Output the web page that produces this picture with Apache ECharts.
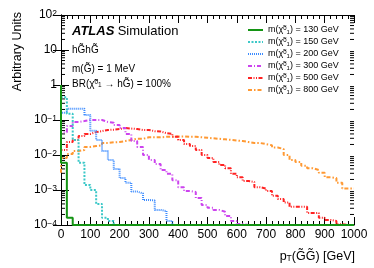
<!DOCTYPE html>
<html><head><meta charset="utf-8">
<script src="https://cdn.jsdelivr.net/npm/echarts@6/dist/echarts.min.js"></script>
<style>html,body{margin:0;padding:0;background:#fff}#c{width:374px;height:268px}</style>
</head><body><div id="c"></div>
<script>
// bin lower edges (GeV), 20 GeV bins from 0 to 1000
const binLow = [0,20,40,60,80,100,120,140,160,180,200,220,240,260,280,300,320,340,360,380,
  400,420,440,460,480,500,520,540,560,580,600,620,640,660,680,700,720,740,760,780,
  800,820,840,860,880,900,920,940,960,980];
const xMax = 1000;
const massLabels = ['130','150','200','300','500','800'];

const h130 = [1.0,0.006,0.00016,0,0,0,0,0,0,0, 0,0,0,0,0,0,0,0,0,0, 0,0,0,0,0,0,0,0,0,0, 0,0,0,0,0,0,0,0,0,0, 0,0,0,0,0,0,0,0,0,0];
const h150 = [0.35,0.45,0.15,0.027,0.006,0.0014,0.001,0.0004,0.00016,0.00013, 0,0,0,0,0,0,0,0,0,0, 0,0,0,0,0,0,0,0,0,0, 0,0,0,0,0,0,0,0,0,0, 0,0,0,0,0,0,0,0,0,0];
const h200 = [0.1,0.16,0.21,0.21,0.21,0.14,0.049,0.027,0.013,0.0072, 0.004,0.0022,0.0016,0.0009,0.0008,0.00052,0.0005,0.00027,0.00025,0.00013, 0,0,0,0,0,0,0,0,0,0, 0,0,0,0,0,0,0,0,0,0, 0,0,0,0,0,0,0,0,0,0];
const h300 = [0.02,0.045,0.067,0.088,0.093,0.1,0.1,0.1,0.088,0.083, 0.072,0.059,0.04,0.025,0.017,0.01,0.0072,0.0055,0.0037,0.0029, 0.0019,0.0012,0.00094,0.00088,0.00059,0.00037,0.00031,0.00027,0.00024,0.00018, 0.00013,0.000107,0,0,0,0,0,0,0,0, 0,0,0,0,0,0,0,0,0,0];
const h500 = [0.0059,0.0139,0.0235,0.027,0.035,0.04,0.045,0.048,0.052,0.053, 0.055,0.059,0.057,0.055,0.052,0.052,0.048,0.047,0.042,0.04, 0.033,0.027,0.0206,0.018,0.0139,0.01,0.0082,0.0063,0.0052,0.0042, 0.0029,0.0023,0.0018,0.0017,0.0012,0.0011,0.00094,0.00068,0.00055,0.00044, 0.00033,0.00033,0.00033,0.00022,0.00022,0.00016,0.00014,0.00013,0.000105,0];
const h800 = [0.0031,0.0082,0.0107,0.013,0.0139,0.017,0.018,0.019,0.022,0.023, 0.0235,0.025,0.027,0.029,0.029,0.032,0.032,0.032,0.033,0.033, 0.034,0.034,0.033,0.033,0.032,0.031,0.03,0.029,0.028,0.027, 0.026,0.025,0.0235,0.022,0.022,0.0205,0.019,0.0164,0.0148,0.01, 0.0072,0.0063,0.0049,0.0042,0.0037,0.0031,0.0023,0.0022,0.0016,0.0011];

const hists = [h130,h150,h200,h300,h500,h800];
const colors = ['#149414','#3cc8c8','#3d8cff','#cc44ee','#ff2222','#ff9933'];
const dashes = ['solid',[2,1.5],[1,1],[4,2,1,2],[4,1.5,1,1.5,1,1.5],[4,2,1.5,2]];
const widths = [2,2,2,2,2,2];
const yMin = 1e-4, yMax = 100;
const FONT = 'Liberation Sans, Arial, Helvetica, sans-serif';

function toData(h){
  const d = binLow.map((x,i)=>[x, Math.max(h[i], yMin)]);
  d.push([xMax, Math.max(h[h.length-1], yMin)]);
  return d;
}

const series = [];
for (let k = hists.length-1; k >= 0; k--) {
  series.push({
    name: massLabels[k], type: 'line', step: 'start', symbol: 'none',
    data: toData(hists[k]), clip: true,
    lineStyle: {color: colors[k], width: widths[k], type: dashes[k]},
    itemStyle: {color: colors[k]},
    z: 3 + (hists.length-k)
  });
}

function yFmt(v){
  const e = Math.round(Math.log10(v));
  if (e === 0) return '1';
  if (e === 1) return '10';
  return '10{s|' + (e<0?'\u2212':'') + Math.abs(e) + '}';
}

const chart = echarts.init(document.getElementById('c'), null, {renderer:'canvas'});
const axisCommon = {
  axisLine: {show:true, lineStyle:{color:'#000', width:1}},
  splitLine: {show:false},
};
const rich9 = {c:{fontSize:9, fontFamily:FONT, color:'#000'}, sp:{fontSize:6, verticalAlign:'top', fontFamily:FONT, color:'#000'}, sb:{fontSize:6, verticalAlign:'bottom', fontFamily:FONT, color:'#000'}};
const option = {
  animation: false,
  backgroundColor: '#fff',
  grid: {left: 61, right: 20, top: 15, bottom: 43},
  xAxis: [
    Object.assign({type:'value', min:0, max:xMax, interval:100, position:'bottom',
      axisTick:{show:true, inside:true, length:8, lineStyle:{color:'#000'}},
      minorTick:{show:true, splitNumber:5, length:4, lineStyle:{color:'#000'}},
      axisLabel:{show:true, fontSize:12, color:'#000', fontFamily:FONT, margin:4, formatter: v => String(v)}}, axisCommon),
    Object.assign({type:'value', min:0, max:xMax, interval:100, position:'top',
      axisTick:{show:true, inside:true, length:8, lineStyle:{color:'#000'}},
      minorTick:{show:true, splitNumber:5, length:4, lineStyle:{color:'#000'}},
      axisLabel:{show:false}}, axisCommon)
  ],
  yAxis: [
    Object.assign({type:'log', logBase:10, min:yMin, max:yMax, position:'left',
      axisTick:{show:true, inside:true, length:8, lineStyle:{color:'#000'}},
      axisLabel:{show:true, fontSize:12, color:'#000', fontFamily:FONT, margin:4,
        formatter: yFmt, rich:{s:{fontSize:8.5, verticalAlign:'top', fontFamily:FONT, color:'#000'}}}}, axisCommon),
    Object.assign({type:'log', logBase:10, min:yMin, max:yMax, position:'right',
      axisTick:{show:true, inside:true, length:8, lineStyle:{color:'#000'}},
      axisLabel:{show:false}}, axisCommon)
  ],
  legend: {
    data: massLabels, orient:'vertical', left: 247, top: 25, padding: 0,
    itemWidth: 15, itemHeight: 10, itemGap: 2,
    itemStyle: {opacity: 0},
    textStyle: {fontSize: 9, color:'#000', fontFamily: FONT, lineHeight: 10, rich: rich9},
    formatter: n => 'm({c|\u03C7\u0303}{sp|0}{sb|1}) = ' + n + ' GeV'
  },
  series: series
};
chart.setOption(option);

// log minor ticks and texts
const g = [];
const xl = chart.convertToPixel({xAxisIndex:0}, 0);
const xr = chart.convertToPixel({xAxisIndex:0}, xMax);
for (let e = -4; e < 2; e++) {
  for (let m = 2; m <= 9; m++) {
    const y = chart.convertToPixel({yAxisIndex:0}, m*Math.pow(10,e));
    g.push({type:'line', shape:{x1:xl, y1:y, x2:xl+4, y2:y}, style:{stroke:'#000', lineWidth:1}, silent:true});
    g.push({type:'line', shape:{x1:xr-4, y1:y, x2:xr, y2:y}, style:{stroke:'#000', lineWidth:1}, silent:true});
  }
}
g.push({type:'text', x:72, y:31, style:{text:'{a|ATLAS} {b|Simulation}', verticalAlign:'middle',
  rich:{a:{fontSize:13, fontWeight:'bold', fontStyle:'italic', fontFamily:FONT, fill:'#000'}, b:{fontSize:13, fontFamily:FONT, fill:'#000'}}}});
g.push({type:'text', x:72, y:50, style:{text:'hG\u0303hG\u0303', verticalAlign:'middle', fontSize:10, fontFamily:FONT, fill:'#000'}});
g.push({type:'text', x:72, y:69, style:{text:'m(G\u0303) = 1 MeV', verticalAlign:'middle', fontSize:10, fontFamily:FONT, fill:'#000'}});
g.push({type:'text', x:72, y:84, style:{text:'BR({c|\u03C7\u0303}{sp|0}{sb|1} \u2192 hG\u0303) = 100%', verticalAlign:'middle', fontSize:10, fontFamily:FONT, fill:'#000', lineHeight:10,
  rich:{c:{fontSize:10, fontFamily:FONT}, sp:{fontSize:6.5, verticalAlign:'top', fontFamily:FONT}, sb:{fontSize:6.5, verticalAlign:'bottom', fontFamily:FONT}}}});
g.push({type:'text', x:18, y:12, rotation:Math.PI/2, style:{text:'Arbitrary Units', align:'right', verticalAlign:'middle', fontSize:12.5, fontFamily:FONT, fill:'#000'}});
g.push({type:'text', x:355, y:257, style:{text:'p{t|T}(G\u0303G\u0303) [GeV]', align:'right', verticalAlign:'middle', fontSize:12.5, fontFamily:FONT, fill:'#000',
  rich:{t:{fontSize:8.5, verticalAlign:'bottom', fontFamily:FONT}}}});
chart.setOption({graphic: g});
</script></body></html>
